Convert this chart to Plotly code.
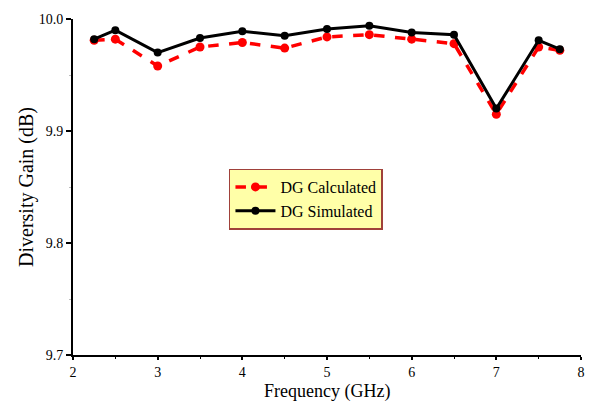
import plotly.graph_objects as go

# Frequency points (GHz) and diversity gain values (dB)
freq_ghz = [2.25, 2.5, 3.0, 3.5, 4.0, 4.5, 5.0, 5.5, 6.0, 6.5, 7.0, 7.5, 7.75]
dg_calculated = [9.981, 9.982, 9.958, 9.975, 9.979, 9.974, 9.984, 9.986, 9.982, 9.978, 9.915, 9.975, 9.972]
dg_simulated = [9.982, 9.990, 9.970, 9.983, 9.989, 9.985, 9.991, 9.994, 9.988, 9.986, 9.920, 9.981, 9.973]

x_ticks = [2, 3, 4, 5, 6, 7, 8]
y_ticks = [9.7, 9.8, 9.9, 10.0]
y_tick_text = ["9.7", "9.8", "9.9", "10.0"]

serif = "Liberation Serif, Times New Roman, serif"

fig = go.Figure()
fig.add_trace(go.Scatter(
    x=freq_ghz, y=dg_calculated, name="DG Calculated",
    mode="lines+markers",
    line=dict(color="#ff0000", width=3.5, dash="dash"),
    marker=dict(color="#ff0000", size=9),
))
fig.add_trace(go.Scatter(
    x=freq_ghz, y=dg_simulated, name="DG Simulated",
    mode="lines+markers",
    line=dict(color="#000000", width=3),
    marker=dict(color="#000000", size=8),
))

fig.update_layout(
    width=593, height=403,
    margin=dict(l=73, r=12, t=19, b=48, autoexpand=False),
    plot_bgcolor="white", paper_bgcolor="white",
    font=dict(family=serif, color="black", size=15),
    showlegend=True,
    legend=dict(
        x=0.307, y=0.555, xanchor="left", yanchor="top",
        bgcolor="#ffffa8", bordercolor="#a0413a", borderwidth=1.5,
        font=dict(family=serif, size=16, color="black"),
        itemwidth=40, tracegroupgap=0,
    ),
    xaxis=dict(
        range=[2, 8], tickvals=x_ticks, automargin=False,
        showgrid=False, zeroline=False,
        showline=True, linecolor="black", linewidth=2,
        ticks="outside", ticklen=3, tickwidth=1.5, tickcolor="black",
        minor=dict(dtick=0.5, tick0=2, ticks="outside", ticklen=2, tickcolor="black", tickwidth=1),
        tickfont=dict(family=serif, size=14),
    ),
    yaxis=dict(
        range=[9.7, 10.0], tickvals=y_ticks, ticktext=y_tick_text, automargin=False,
        showgrid=False, zeroline=False,
        showline=True, linecolor="black", linewidth=2,
        ticks="outside", ticklen=5, tickwidth=1.5, tickcolor="black",
        minor=dict(dtick=0.05, tick0=9.7, ticks="outside", ticklen=2, tickcolor="#bbbbbb", tickwidth=1),
        tickfont=dict(family=serif, size=14),
        title=dict(text="Diversity Gain (dB)", font=dict(family=serif, size=20), standoff=0),
    ),
)

# x-axis title placed just below the tick labels
fig.add_annotation(
    text="Frequency (GHz)", xref="paper", yref="paper",
    x=0.5, y=-0.1428, xanchor="center", yanchor="bottom",
    borderpad=0, showarrow=False, font=dict(family=serif, size=18, color="black"),
)

fig.write_html("out.html")
